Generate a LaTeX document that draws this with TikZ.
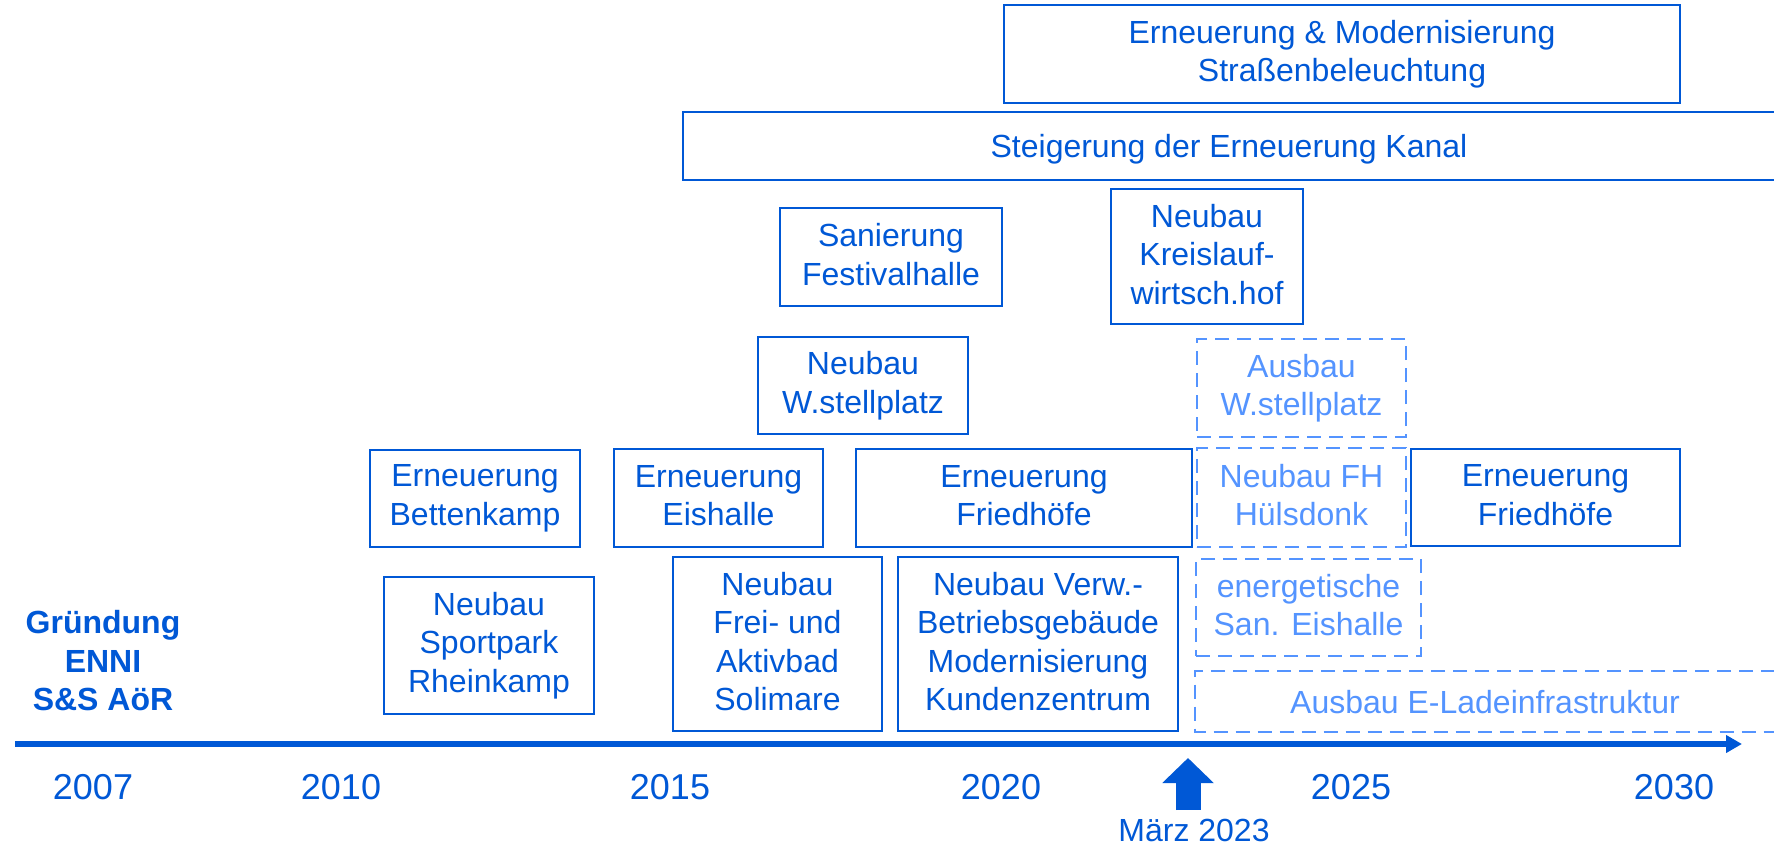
\documentclass[tikz,border=0pt]{standalone}
\usepackage{fontspec}
\setmainfont{Liberation Sans}
\usetikzlibrary{arrows.meta}
\definecolor{dblue}{RGB}{0,88,214}
\definecolor{lblue}{RGB}{84,148,255}
\tikzset{
  box/.style={draw=dblue, line width=1.1pt, text=dblue, align=center, inner sep=0pt,
    font=\fontsize{16}{19.25}\selectfont,
    execute at begin node={\rule{0pt}{14.5pt}},
    execute at end node={\rule[-2.5pt]{0pt}{2.5pt}}},
  dbox/.style={box, draw=lblue, text=lblue, dash pattern=on 7pt off 4pt},
  openline/.style={dblue, line width=1.3pt},
  dopenline/.style={lblue, line width=1.1pt, dash pattern=on 7pt off 4pt},
  yearlbl/.style={text=dblue, inner sep=0pt, font=\fontsize{18}{21}\selectfont},
  axisline/.style={dblue, line width=2.6pt, -{Triangle[length=8pt, width=8.5pt]}},
  nowarrow/.style={dblue, line width=12.5pt, -{Triangle[length=12.5pt, width=25pt]}},
}
\begin{document}
\begin{tikzpicture}[x=0.5pt, y=-0.5pt]
\useasboundingbox[fill=white] (0,0) rectangle (1774,847);

% top wide boxes
\node[box, minimum width=338pt, minimum height=49pt] (strassen) at (1342,54)
  {Erneuerung \& Modernisierung\\Straßenbeleuchtung};
\node[box, draw=none, minimum width=545pt, minimum height=33pt] (kanal) at (1229,146)
  {Steigerung der Erneuerung Kanal};
\draw[openline] (kanal.north east) -- (kanal.north west) -- (kanal.south west) -- (kanal.south east);

% upper project boxes
\node[box, minimum width=111pt, minimum height=49pt] (sanierung) at (891,257)
  {Sanierung\\Festivalhalle};
\node[box, minimum width=96pt, minimum height=67.5pt] (kreislauf) at (1207,256.5)
  {Neubau\\Kreislauf-\\wirtsch.hof};
\node[box, minimum width=105pt, minimum height=48.5pt] (wstell) at (863,385.5)
  {Neubau\\W.stellplatz};
\node[dbox, minimum width=104.5pt, minimum height=49pt] (ausbauw) at (1301.5,388)
  {Ausbau\\W.stellplatz};

% middle row
\node[box, minimum width=105pt, minimum height=48.5pt] (betten) at (475,498.5)
  {Erneuerung\\Bettenkamp};
\node[box, minimum width=104.5pt, minimum height=49pt] (eishalle) at (718.5,498)
  {Erneuerung\\Eishalle};
\node[box, minimum width=168pt, minimum height=49pt] (friedhofa) at (1024,498)
  {Erneuerung\\Friedhöfe};
\node[dbox, minimum width=104.5pt, minimum height=49.5pt] (huelsdonk) at (1301.5,497.5)
  {Neubau FH\\Hülsdonk};
\node[box, minimum width=134.5pt, minimum height=48.5pt] (friedhofb) at (1545.5,497.5)
  {Erneuerung\\Friedhöfe};

% lower row
\node[box, minimum width=105pt, minimum height=68.5pt] (sportpark) at (489,645.5)
  {Neubau\\Sportpark\\Rheinkamp};
\node[box, minimum width=104.5pt, minimum height=87pt] (solimare) at (777.5,644)
  {Neubau\\Frei- und\\Aktivbad\\Solimare};
\node[box, minimum width=140pt, minimum height=87pt] (verw) at (1038,644)
  {Neubau Verw.-\\Betriebsgebäude\\Modernisierung\\Kundenzentrum};
\node[dbox, minimum width=112.5pt, minimum height=48.5pt] (energ) at (1308.5,607.5)
  {energetische\\San. Eishalle};
\node[dbox, draw=none, minimum width=289pt, minimum height=29.5pt] (elade) at (1485,701.5)
  {Ausbau E-Ladeinfrastruktur};
\draw[dopenline] (elade.north east) -- (elade.north west) -- (elade.south west) -- (elade.south east);

% founding label
\node[text=dblue, align=center, inner sep=0pt, font=\fontsize{16}{19.25}\selectfont\bfseries]
  (gruendung) at (103,661) {Gründung\\ENNI\\S\&S AöR};

% time axis
\coordinate (axl) at (15,744);
\coordinate (axr) at (1742,744);
\draw[axisline] (axl) -- (axr);

\node[yearlbl] (y2007) at (93,787) {2007};
\node[yearlbl] (y2010) at (341,787) {2010};
\node[yearlbl] (y2015) at (670,787) {2015};
\node[yearlbl] (y2020) at (1001,787) {2020};
\node[yearlbl] (y2025) at (1351,787) {2025};
\node[yearlbl] (y2030) at (1674,787) {2030};

% current date marker
\node[text=dblue, inner sep=0pt, font=\fontsize{16}{19.25}\selectfont] (maerz) at (1194,830) {März 2023};
\coordinate (nowbase) at (1188,810);
\coordinate (nowtip) at (1188,758);
\draw[nowarrow] (nowbase) -- (nowtip);
\end{tikzpicture}
\end{document}
